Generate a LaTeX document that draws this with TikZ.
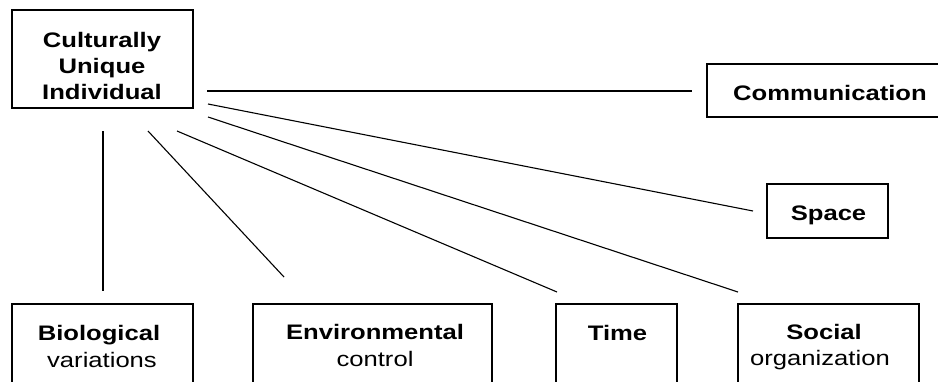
\documentclass[tikz,border=0pt]{standalone}
\usepackage{fontspec}
\setmainfont{Liberation Sans}[FakeStretch=1.22]
\begin{document}
\begin{tikzpicture}[x=1pt,y=-1pt,
  box/.style={draw, line width=1.1pt, inner sep=0pt},
  boldtxt/.style={font=\fontsize{21}{26}\selectfont\bfseries, anchor=base, inner sep=0pt},
  plaintxt/.style={font=\fontsize{21}{26}\selectfont, anchor=base, inner sep=0pt},
  link/.style={line width=1.1pt}]
\clip (0,0) rectangle (938,381);

% boxes
\node[box, minimum width=181pt, minimum height=98pt] (cui) at (102.5,59) {};
\node[box, minimum width=243pt, minimum height=53pt] (comm) at (828.5,90.5) {};
\node[box, minimum width=121pt, minimum height=54pt] (space) at (827.5,211) {};
\node[box, minimum width=181pt, minimum height=96pt] (bio) at (102.5,352) {};
\node[box, minimum width=239pt, minimum height=96pt] (env) at (372.5,352) {};
\node[box, minimum width=121pt, minimum height=96pt] (time) at (616.5,352) {};
\node[box, minimum width=181pt, minimum height=96pt] (social) at (828.5,352) {};

% labels
\node[boldtxt] (cuiA) at (102,47) {Culturally};
\node[boldtxt] (cuiB) at (102,73) {Unique};
\node[boldtxt] (cuiC) at (102,99) {Individual};
\node[boldtxt] (commA) at (830,100) {Communication};
\node[boldtxt] (spaceA) at (828.5,220) {Space};
\node[boldtxt] (bioA) at (99,340) {Biological};
\node[plaintxt] (bioB) at (102,367) {variations};
\node[boldtxt] (envA) at (375,339) {Environmental};
\node[plaintxt] (envB) at (375,366) {control};
\node[boldtxt] (timeA) at (617.5,340) {Time};
\node[boldtxt] (socialA) at (824,339) {Social};
\node[plaintxt] (socialB) at (820,365) {organization};

% connector end points (lines stop short of the boxes)
\coordinate (cuiComm) at (207,91);
\coordinate (commIn) at (692,91);
\coordinate (cuiSpace) at (208,104);
\coordinate (spaceIn) at (753,211);
\coordinate (cuiSocial) at (208,117);
\coordinate (socialIn) at (738,292);
\coordinate (cuiTime) at (177,131);
\coordinate (timeIn) at (557,292);
\coordinate (cuiEnv) at (148,131);
\coordinate (envIn) at (284,277);
\coordinate (cuiBio) at (103,131);
\coordinate (bioIn) at (103,291);

% connectors
\draw[link] (cuiComm) -- (commIn);
\draw[link] (cuiSpace) -- (spaceIn);
\draw[link] (cuiSocial) -- (socialIn);
\draw[link] (cuiTime) -- (timeIn);
\draw[link] (cuiEnv) -- (envIn);
\draw[link] (cuiBio) -- (bioIn);
\end{tikzpicture}
\end{document}
